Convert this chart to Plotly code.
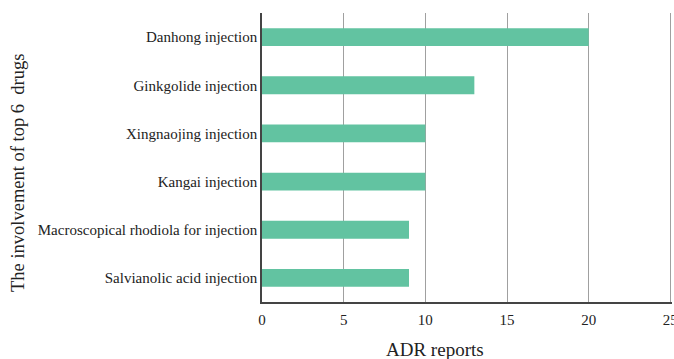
import plotly.graph_objects as go

drugs = [
    "Danhong injection",
    "Ginkgolide injection",
    "Xingnaojing injection",
    "Kangai injection",
    "Macroscopical rhodiola for injection",
    "Salvianolic acid injection",
]
reports = [20, 13, 10, 10, 9, 9]
x_ticks = [0, 5, 10, 15, 20, 25]

FONT = "Liberation Serif, Times New Roman, serif"

fig = go.Figure(
    go.Bar(
        x=reports,
        y=drugs,
        orientation="h",
        marker=dict(color="#62c3a1", line=dict(width=0)),
        width=0.37,
    )
)

fig.update_layout(
    width=674,
    height=359,
    margin=dict(l=262, r=2, t=13, b=57),
    plot_bgcolor="white",
    paper_bgcolor="white",
    showlegend=False,
    font=dict(family=FONT, size=15, color="#222222"),
    xaxis=dict(
        range=[0, 25.1],
        tickvals=x_ticks,
        showgrid=True,
        gridcolor="#a0a0a0",
        gridwidth=1,
        zeroline=False,
        showline=True,
        linecolor="#444444",
        linewidth=1.5,
        ticks="",
        tickfont=dict(family=FONT, size=15, color="#222222"),
        ticklabelstandoff=3,
        ticklabeloverflow="allow",
        automargin=False,
    ),
    yaxis=dict(
        autorange="reversed",
        showgrid=False,
        zeroline=False,
        showline=True,
        linecolor="#444444",
        linewidth=1.5,
        ticks="",
        tickfont=dict(family=FONT, size=15, color="#222222"),
    ),
    annotations=[
        dict(
            text="ADR reports",
            xref="paper", yref="paper",
            x=(435 - 262) / 410, y=-(350 - 302) / 289,
            xanchor="center", yanchor="middle",
            showarrow=False,
            font=dict(family=FONT, size=19, color="#222222"),
        ),
        dict(
            text="The involvement of top 6  drugs",
            xref="paper", yref="paper",
            x=-(262 - 18) / 410, y=(302 - 173) / 289,
            xanchor="center", yanchor="middle",
            textangle=-90,
            showarrow=False,
            font=dict(family=FONT, size=18.5, color="#222222"),
        ),
    ],
)

fig.write_html("out.html", config={"displayModeBar": False})

with open("out.html", "r", encoding="utf-8") as f:
    html = f.read()
html = html.replace("<head>", "<head><style>html,body{margin:0;padding:0;overflow:hidden;}</style>", 1)
with open("out.html", "w", encoding="utf-8") as f:
    f.write(html)
